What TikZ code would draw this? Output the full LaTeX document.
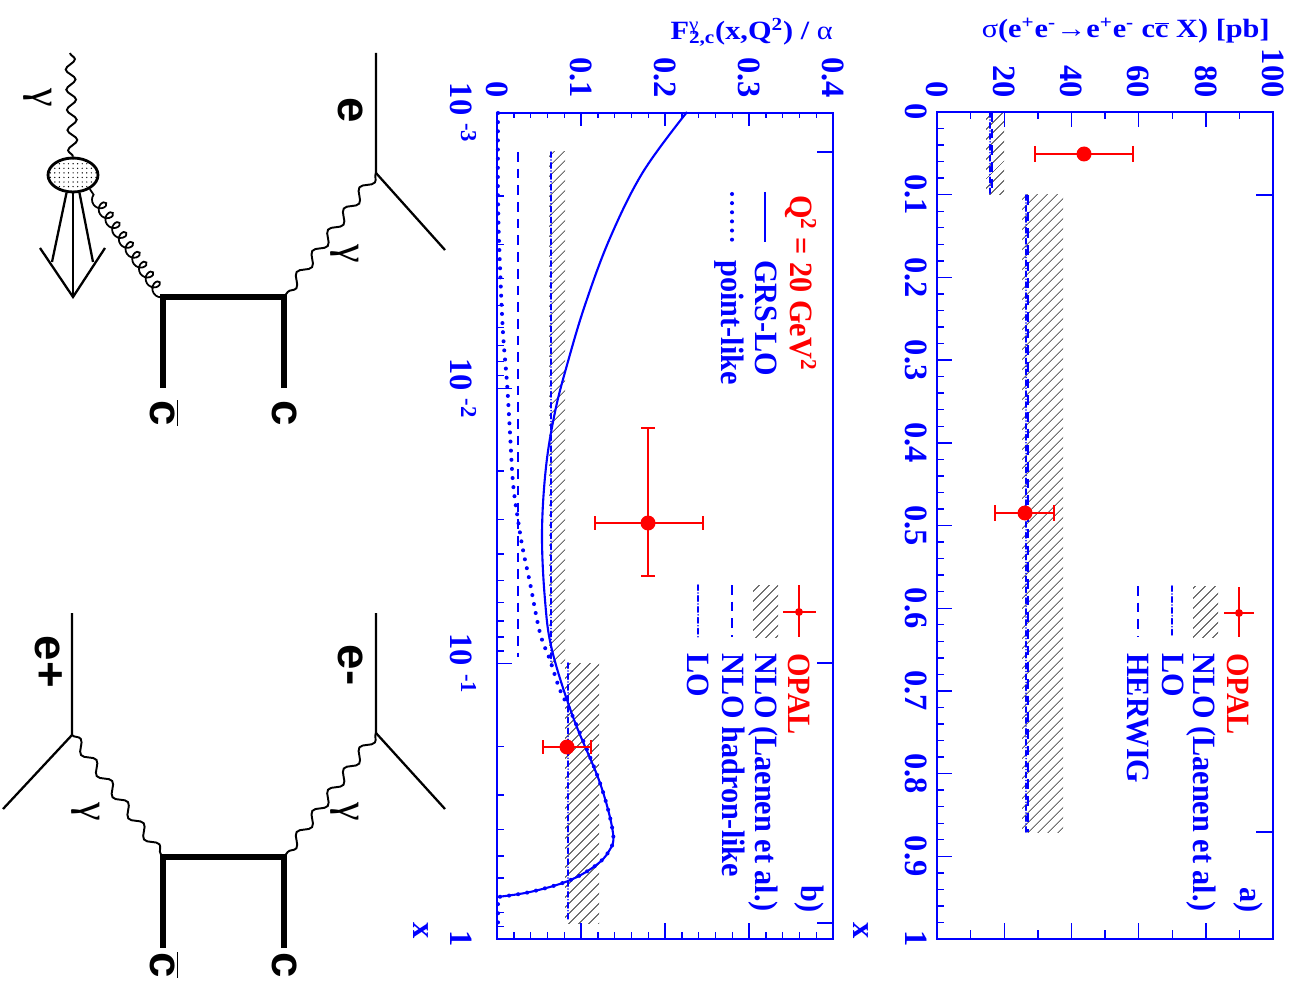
\documentclass[tikz,border=0pt]{standalone}
\usepackage{fontspec}
\setmainfont{Liberation Serif}
\newfontfamily\legfont[FakeStretch=0.93]{Liberation Serif}
\newfontfamily\titlefont[FakeStretch=1.15]{Liberation Serif}
\newfontfamily\feynfont{Liberation Sans}
\usetikzlibrary{patterns.meta,decorations.pathmorphing,shapes.geometric}

\tikzset{
  plotframe/.style={blue, line width=1.1pt},
  tck/.style={blue, line width=0.8pt},
  numlab/.style={blue, rotate=-90, inner sep=0pt, font=\bfseries\fontsize{18.5}{18.5}\selectfont},
  leglab/.style={blue, rotate=-90, inner sep=0pt, anchor=base west, font=\legfont\bfseries\fontsize{18.5}{18.5}\selectfont},
  titlelab/.style={blue, inner sep=0pt, anchor=base east, font=\titlefont\bfseries\fontsize{15}{15}\selectfont},
  hatch/.style={pattern={Lines[angle=45,distance=4pt,line width=0.45pt]}, pattern color=black!85},
  opal/.style={red, line width=0.9pt},
  grs/.style={blue, line width=1.2pt},
  ptlike/.style={blue, line width=2.3pt, line cap=round, dash pattern=on 0pt off 5.2pt},
  dashblue/.style={blue, line width=1.1pt, dash pattern=on 5.5pt off 4pt},
  dotdash/.style={blue, line width=1pt, line cap=round, dash pattern=on 3pt off 1.6pt on 0pt off 1.6pt},
  fermion/.style={line width=1.3pt},
  heavy/.style={line width=3pt},
  photon/.style={decorate, decoration={snake, amplitude=2.7pt, segment length=15pt}, line width=1.1pt},
  gluon/.style={decorate, decoration={coil, aspect=0.9, amplitude=3.2pt, segment length=6.8pt}, line width=1pt},
  blob/.style={ellipse, draw, line width=1.6pt, minimum width=1cm, minimum height=0.68cm, inner sep=0pt, pattern={Dots[radius=0.4pt,distance=2.6pt]}},
  flab/.style={rotate=-90, inner sep=0pt, anchor=base, font=\feynfont\bfseries\fontsize{26}{26}\selectfont},
  glab/.style={rotate=-90, inner sep=0pt, font=\fontsize{24}{24}\selectfont}
}

\begin{document}
\begin{tikzpicture}[x=0.02cm,y=-0.02cm]
\fill[white] (0,0) rectangle (1290,986);
\useasboundingbox (0,0) rectangle (1290,986);

% panel a
\fill[hatch] (986,112) rectangle (1004,195);
\fill[hatch] (1022,195) rectangle (1063,832);
\draw[dotdash] (990,112) -- (990,195);
\draw[dashblue] (992,112) -- (992,195);
\draw[dotdash] (1026,195) -- (1026,832);
\draw[dashblue] (1028,195) -- (1028,832);
\draw[plotframe] (937,112) rectangle (1273,939);
\foreach \i in {1,...,9} {
  \pgfmathsetmacro\len{mod(\i,2)==0 ? 15 : 7}
  \pgfmathsetmacro\lenb{mod(\i,2)==0 ? 16 : 9}
  \draw[tck] (937+33.6*\i,112) -- ++(0,\len);
  \draw[tck] (937+33.6*\i,939) -- ++(0,-\lenb);
}
\foreach \i in {1,...,49} {
  \pgfmathsetmacro\len{mod(\i,5)==0 ? 15 : 7}
  \draw[tck] (937,112+16.54*\i) -- ++(\len,0);
}
\draw[tck] (1273,195) -- ++(-17,0);
\draw[tck] (1273,832) -- ++(-17,0);
\foreach \v [count=\i from 0] in {0,20,40,60,80,100}
  \node[numlab, anchor=east] at (937+67.2*\i,98) {\v};
\foreach \v [count=\i from 0] in {0,0.1,0.2,0.3,0.4,0.5,0.6,0.7,0.8,0.9,1}
  \node[numlab, anchor=north] at (927,112+82.7*\i) {\v};
\node[titlelab] at (1270,38) {{\mdseries σ}(e\textsuperscript{+}e\textsuperscript{-}→e\textsuperscript{+}e\textsuperscript{-} c$\overline{\mbox{c}}$ X) [pb]};
\node[numlab, anchor=base east] at (853,939) {x};

\draw[opal] (1035,154) -- (1133,154);
\draw[opal] (1035,146) -- (1035,162) (1133,146) -- (1133,162);
\fill[red] (1084,154) circle (7.5);
\draw[opal] (995,513) -- (1054,513);
\draw[opal] (995,505) -- (995,521) (1054,505) -- (1054,521);
\fill[red] (1025,513) circle (7.5);

\draw[opal] (1224,613) -- (1254,613) (1239,587) -- (1239,637);
\fill[red] (1239,613) circle (4);
\fill[hatch] (1193,586) rectangle (1218,637);
\draw[dotdash] (1172,586) -- (1172,637);
\draw[dashblue] (1138,586) -- (1138,637);
\node[leglab, red] at (1227,653) {OPAL};
\node[leglab] at (1193,653) {NLO (Laenen et al.)};
\node[leglab] at (1162,653) {LO};
\node[leglab] at (1127,653) {HERWIG};
\node[leglab, anchor=base east] at (1240,913) {a)};

% panel b
\fill[hatch] (549,152) rectangle (565,663);
\fill[hatch] (565,663) rectangle (599,923);
\draw[dashblue] (518,152) -- (518,657);
\draw[dotdash] (551,152) -- (551,663);
\draw[dotdash] (568,663) -- (568,920);
\draw[grs] plot[smooth, tension=0.6] coordinates {(687,112) (643,172) (610,238) (585,305) (567,365) (555,412) (546,467) (542,533) (545,600) (552,650) (573,717) (600,783) (613,833) (609,851) (595,866) (568,881) (530,892) (497,897)};
\draw[ptlike] plot[smooth, tension=0.6] coordinates {(498,113) (498,200) (500,267) (503,333) (507,383) (510,433) (513,483) (518,520) (523,550) (530,583) (540,633) (550,660) (560,690) (573,717) (600,783) (613,833) (609,851) (595,866) (568,881) (530,892) (498,897)} -- (498,925);
\draw[plotframe] (497,113) rectangle (833,939);
\foreach \i in {1,...,19} {
  \pgfmathsetmacro\len{mod(\i,5)==0 ? 13 : 5}
  \pgfmathsetmacro\lenb{mod(\i,5)==0 ? 16 : 7}
  \draw[tck] (497+16.8*\i,113) -- ++(0,\len);
  \draw[tck] (497+16.8*\i,939) -- ++(0,-\lenb);
}
\foreach \d in {0,1,2}
  \foreach \m in {2,...,9}
    \draw[tck] (497,{113+275.3*(\d+log10(\m))}) -- ++(7,0);
\foreach \d in {1,2}
  \draw[tck] (497,113+275.3*\d) -- ++(15,0);
\draw[tck] (833,152) -- ++(-16,0);
\draw[tck] (833,663) -- ++(-16,0);
\draw[tck] (833,923) -- ++(-16,0);
\foreach \v [count=\i from 0] in {0,0.1,0.2,0.3,0.4}
  \node[numlab, anchor=east] at (497+84*\i,98) {\v};
\foreach \e [count=\i from 0] in {-3,-2,-1}
  \node[numlab, anchor=base] at (450,113+275.3*\i) {10 \textsuperscript{\e}};
\node[numlab, anchor=base] at (450,939) {1};
\node[titlelab] at (833,40) {F\rlap{\textsuperscript{\mdseries γ}}\textsubscript{2,c}(x,Q\textsuperscript{2}) / {\mdseries α}};
\node[numlab, anchor=base east] at (413,939) {x};

\draw[opal] (595,523) -- (703,523) (648,428) -- (648,576);
\draw[opal] (595,516) -- (595,530) (703,516) -- (703,530);
\draw[opal] (641,428) -- (655,428) (641,576) -- (655,576);
\fill[red] (648,523) circle (7.5);
\draw[opal] (543,747) -- (591,747);
\draw[opal] (543,740) -- (543,754) (591,740) -- (591,754);
\fill[red] (567,747) circle (7.5);

\node[leglab, red] at (790,195) {Q\textsuperscript{2} = 20 GeV\textsuperscript{2}};
\draw[grs] (765,192) -- (765,242);
\draw[ptlike] (732,194) -- (732,242);
\node[leglab] at (755,260) {GRS-LO};
\node[leglab] at (721,260) {point-like};
\draw[opal] (783,612) -- (816,612) (799,585) -- (799,637);
\fill[red] (799,612) circle (4);
\fill[hatch] (753,585) rectangle (778,637);
\draw[dashblue] (732,585) -- (732,637);
\draw[dotdash] (698,585) -- (698,637);
\node[leglab, red] at (788,653) {OPAL};
\node[leglab] at (755,653) {NLO (Laenen et al.)};
\node[leglab] at (722,653) {NLO hadron-like};
\node[leglab] at (687,653) {LO};
\node[leglab, anchor=base east] at (801,913) {b)};

% resolved photon diagram
\coordinate (eIn) at (376,53);
\coordinate (eV) at (376,173);
\coordinate (eOut) at (445,250);
\coordinate (cV) at (284,297);
\coordinate (cbV) at (163,297);
\coordinate (cEnd) at (284,388);
\coordinate (cbEnd) at (163,388);
\coordinate (gIn) at (70,53);
\coordinate (remn) at (73,297);
\node[blob] (blob) at (73,175) {};
\draw[fermion] (eIn) -- (eV) -- (eOut);
\draw[photon] (eV) -- (cV);
\draw[heavy] (cEnd) -- (cV) -- (cbV) -- (cbEnd);
\draw[gluon] (cbV) -- (blob.-40);
\draw[photon, decoration={segment length=11.5pt}] (gIn) -- (blob.north);
\draw[fermion] (blob.250) -- (52,262);
\draw[fermion] (blob.south) -- (remn);
\draw[fermion] (blob.290) -- (93,262);
\draw[fermion] (40,248) -- (remn) -- (105,248);
\node[flab] at (338,110) {e};
\node[flab] at (272,413) {c};
\node[flab] at (150,413) {$\overline{\mbox{c}}$};
\node[glab] at (345,254) {γ};
\node[glab] at (38,98) {γ};

% direct diagram
\coordinate (emIn) at (376,613);
\coordinate (emV) at (376,733);
\coordinate (emOut) at (445,809);
\coordinate (epIn) at (72,613);
\coordinate (epV) at (72,735);
\coordinate (epOut) at (3,809);
\coordinate (dcV) at (284,857);
\coordinate (dcbV) at (163,857);
\coordinate (dcEnd) at (284,948);
\coordinate (dcbEnd) at (163,948);
\draw[fermion] (emIn) -- (emV) -- (emOut);
\draw[fermion] (epIn) -- (epV) -- (epOut);
\draw[photon] (emV) -- (dcV);
\draw[photon] (epV) -- (dcbV);
\draw[heavy] (dcEnd) -- (dcV) -- (dcbV) -- (dcbEnd);
\node[flab] at (338,665) {e-};
\node[flab] at (35,662) {e+};
\node[flab] at (272,965) {c};
\node[flab] at (150,965) {$\overline{\mbox{c}}$};
\node[glab] at (345,812) {γ};
\node[glab] at (86,812) {γ};
\end{tikzpicture}
\end{document}
